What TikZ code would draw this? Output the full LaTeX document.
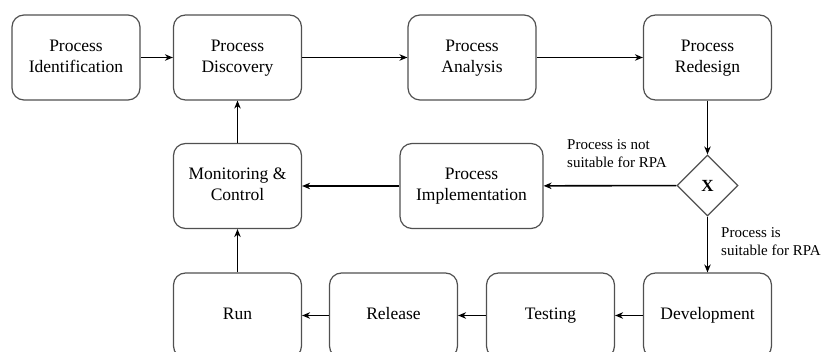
\documentclass[tikz,border=0pt]{standalone}
\usepackage{fontspec}
\setmainfont{Liberation Serif}
\usetikzlibrary{arrows.meta,shapes.geometric}
\definecolor{boxline}{HTML}{505050}
\begin{document}
\begin{tikzpicture}[x=1pt,y=-1pt,
  stage/.style={draw=boxline,line width=1.2pt,rounded corners=12pt,
    minimum width=128pt,minimum height=85pt,align=center,inner sep=2pt,
    font=\fontsize{17.5}{21}\selectfont},
  decision/.style={diamond,draw=boxline,line width=1.2pt,minimum width=61pt,
    minimum height=61pt,inner sep=0pt,font=\fontsize{17}{20}\selectfont\bfseries},
  flow/.style={line width=1.6pt,-{Stealth[length=8pt,width=6.5pt]}},
  note/.style={align=left,inner sep=0pt,anchor=north west,
    font=\fontsize{15}{18}\selectfont}]
\useasboundingbox (0,0) rectangle (825,352);
\clip (0,0) rectangle (825,352);

% top row
\node[stage] (ident) at (76,57.5) {Process\strut\\Identification\strut};
\node[stage] (disc) at (237.5,57.5) {Process\strut\\Discovery\strut};
\node[stage] (anal) at (472,57.5) {Process\strut\\Analysis\strut};
\node[stage] (redes) at (707.5,57.5) {Process\strut\\Redesign\strut};

% middle row
\node[stage] (mon) at (237.5,186) {Monitoring \&\strut\\Control\strut};
\node[stage,minimum width=143pt] (impl) at (471.5,186) {Process\strut\\Implementation\strut};
\node[decision] (dec) at (707.5,185.5) {X};

% bottom row (boxes run past the lower edge)
\node[stage] (run) at (237.5,315.5) {Run\strut};
\node[stage] (rel) at (393.5,315.5) {Release\strut};
\node[stage] (test) at (550.5,315.5) {Testing\strut};
\node[stage] (dev) at (707.5,315.5) {Development\strut};

% connectors
\draw[flow] (ident) -- (disc);
\draw[flow] (disc) -- (anal);
\draw[flow] (anal) -- (redes);
\draw[flow] (redes) -- (dec);
\draw[flow] (dec) -- (impl);
\draw[flow] (impl) -- (mon);
\draw[flow] (mon) -- (disc);
\draw[flow] (dec) -- (dev);
\draw[flow] (dev) -- (test);
\draw[flow] (test) -- (rel);
\draw[flow] (rel) -- (run);
\draw[flow] (run) -- (mon);

% decision labels
\node[note] (notfit) at (567,139) {Process is not\\suitable for RPA};
\node[note] (fit) at (721,227) {Process is\\suitable for RPA};
\end{tikzpicture}
\end{document}
